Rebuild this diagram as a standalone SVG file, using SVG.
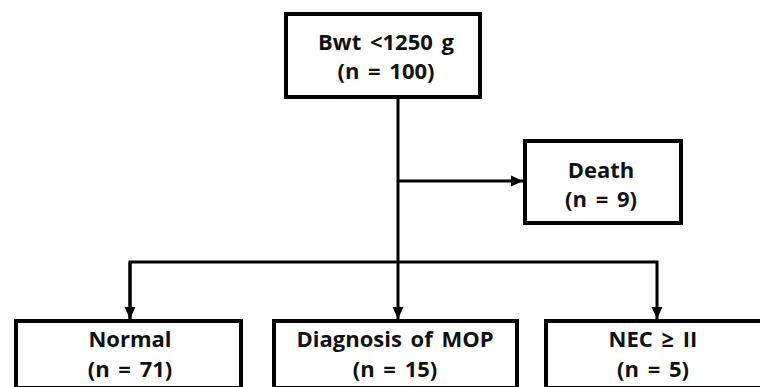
<svg xmlns="http://www.w3.org/2000/svg" width="760" height="387" viewBox="0 0 760 387">
<style>
.box{fill:#fff;stroke:#000;stroke-width:4}
.line{fill:none;stroke:#000;stroke-width:3}
.t{font-family:"Open Sans","Noto Sans","Liberation Sans",sans-serif;font-weight:bold;font-size:22px;word-spacing:3px;fill:#111;text-anchor:middle}
</style>
<defs>
<marker id="arr" markerUnits="userSpaceOnUse" markerWidth="12" markerHeight="12" viewBox="0 0 12 12" refX="12" refY="6" orient="auto">
<path d="M0,0.5 L12,6 L0,11.5 Z" fill="#000"/>
</marker>
</defs>
<rect width="760" height="387" fill="#fff"/>
<g id="connectors">
<path class="line" d="M398,99 V319" marker-end="url(#arr)"/>
<path class="line" d="M398,181 H523" marker-end="url(#arr)"/>
<path class="line" d="M130,319 V262 H657 V319" marker-end="url(#arr)"/>
<path class="line" d="M130,262 V319" marker-end="url(#arr)"/>
</g>
<g id="top">
<rect class="box" x="286" y="14" width="194" height="83"/>
<text class="t" x="386" y="50">Bwt &lt;1250 g</text>
<text class="t" x="386" y="79">(n = 100)</text>
</g>
<g id="death">
<rect class="box" x="525" y="141" width="156" height="82"/>
<text class="t" x="601" y="178">Death</text>
<text class="t" x="601" y="207">(n = 9)</text>
</g>
<g id="normal">
<rect class="box" x="16" y="321" width="225" height="67"/>
<text class="t" x="130" y="347">Normal</text>
<text class="t" x="130" y="377">(n = 71)</text>
</g>
<g id="mop">
<rect class="box" x="274" y="321" width="243" height="67"/>
<text class="t" x="395" y="347">Diagnosis of MOP</text>
<text class="t" x="395" y="377">(n = 15)</text>
</g>
<g id="nec">
<rect class="box" x="546" y="321" width="220" height="67"/>
<text class="t" x="653" y="347">NEC ≥ II</text>
<text class="t" x="653" y="377">(n = 5)</text>
</g>
</svg>
